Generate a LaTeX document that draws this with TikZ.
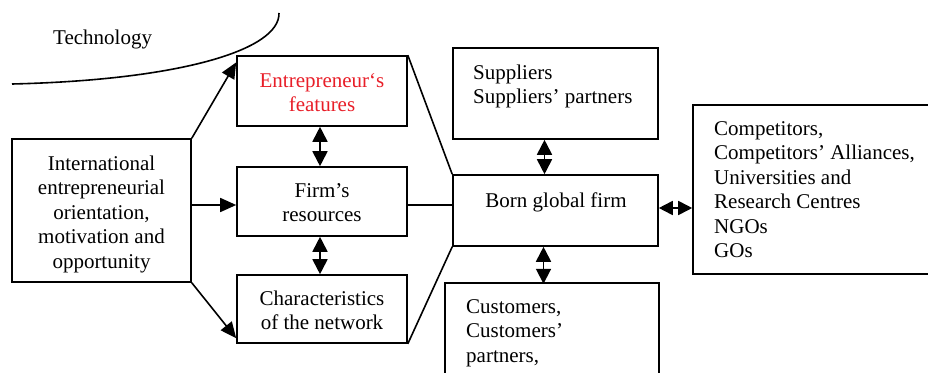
\documentclass[tikz,border=0pt]{standalone}
\usepackage{fontspec}
\setmainfont{Liberation Serif}
\usetikzlibrary{arrows.meta,calc}
\definecolor{entred}{RGB}{232,30,40}
\begin{document}
\begin{tikzpicture}[x=1pt,y=-1pt,
  box/.style={draw,line width=1.6pt,rectangle,inner sep=0pt,anchor=center},
  lbl/.style={inner sep=0pt,font=\fontsize{21}{24.5}\selectfont},
  conn/.style={line width=1.6pt},
  onearrow/.style={line width=1.6pt,-{Triangle[length=16pt,width=14pt]}},
  twoarrow/.style={line width=1.8pt,{Triangle[length=15pt,width=15pt]}-{Triangle[length=15pt,width=15pt]}},
  twoarrowh/.style={line width=1.8pt,{Triangle[length=14pt,width=14pt]}-{Triangle[length=14pt,width=14pt]}}]
\useasboundingbox (0,0) rectangle (928,372);
\clip (0,0) rectangle (928,372);
% boxes
\node[box,minimum width=179pt,minimum height=143pt] (left) at (101.5,210.5) {};
\node[box,minimum width=170pt,minimum height=70pt] (ent) at (322,91) {};
\node[box,minimum width=170pt,minimum height=69pt] (res) at (322,201.5) {};
\node[box,minimum width=170pt,minimum height=68pt] (net) at (322,309) {};
\node[box,minimum width=205pt,minimum height=71pt] (bg) at (555.5,210.5) {};
\node[box,minimum width=205pt,minimum height=91pt] (sup) at (555.5,93.5) {};
\node[box,minimum width=214pt,minimum height=140pt] (cus) at (552,353) {};
\node[box,minimum width=250pt,minimum height=169pt] (comp) at (818,189.5) {};
% texts
\node[lbl,anchor=base west] (tech) at (53,44) {Technology};
\node[lbl,anchor=north,align=center] (lefttxt) at (101.5,153) {\strut International\\entrepreneurial\\orientation,\\motivation and\\opportunity};
\node[lbl,anchor=north,align=center,text=entred] (enttxt) at (322,70) {\strut Entrepreneur‘s\\features};
\node[lbl,anchor=north,align=center] (restxt) at (322,180) {\strut Firm’s\\resources};
\node[lbl,anchor=north,align=center] (nettxt) at (322,288) {\strut Characteristics\\of the network};
\node[lbl,anchor=north] (bgtxt) at (556,190) {\strut Born global firm};
\node[lbl,anchor=north west,align=left] (suptxt) at (473,62) {\strut Suppliers\\Suppliers’ partners};
\node[lbl,anchor=north west,align=left] (custxt) at (466,296) {\strut Customers,\\Customers’\\partners,};
\node[lbl,anchor=north west,align=left] (comptxt) at (714,118) {\strut Competitors,\\Competitors’ Alliances,\\Universities and\\Research Centres\\NGOs\\GOs};
% technology curve
\coordinate (techA) at (12,84);
\coordinate (techB) at (279,13);
\draw[conn] (techA) .. controls (180,80) and (280,50) .. (techB);
% connectors from left box
\coordinate (entin) at ($(ent.north west)!0.1!(ent.south west)$);
\coordinate (netin) at ($(net.south west)!0.08!(net.north west)$);
\coordinate (resin) at ($(res.west)+(0,3.5)$);
\draw[onearrow] (left.north east) -- (entin);
\draw[onearrow] (left.south east) -- (netin);
\draw[onearrow] (left.east |- resin) -- (resin);
% double arrows in the middle column
\draw[twoarrow] ($(ent.south)+(-2,0)$) -- ($(res.north)+(-2,0)$);
\draw[twoarrow] ($(res.south)+(-2,0)$) -- ($(net.north)+(-2,0)$);
% lines to born global firm
\draw[conn] (ent.north east) -- (bg.north west);
\draw[conn] (res.east |- resin) -- (bg.west |- resin);
\draw[conn] (net.south east) -- (bg.south west);
% double arrows around born global firm
\draw[twoarrow] ($(sup.south)+(-11,0)$) -- ($(bg.north)+(-11,0)$);
\draw[twoarrow] ($(bg.south)+(-12,0)$) -- ($(bg.south)+(-12,37)$);
\draw[twoarrowh] ($(bg.east)+(0,-2.5)$) -- (comp.west |- {$(bg.east)+(0,-2.5)$});
\end{tikzpicture}
\end{document}
